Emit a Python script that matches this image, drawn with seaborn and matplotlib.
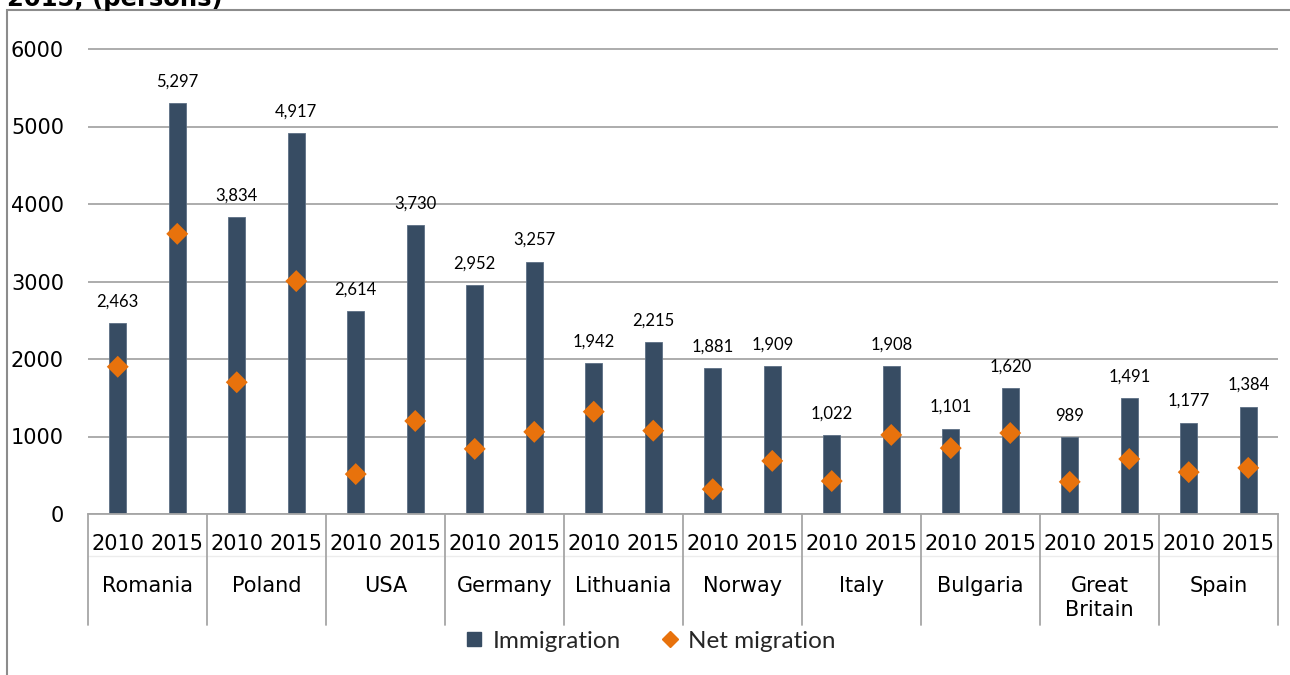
import numpy as np
import pandas as pd
import matplotlib
matplotlib.use("Agg")
import matplotlib.pyplot as plt
import matplotlib.transforms as mtransforms
from matplotlib.lines import Line2D
from matplotlib.patches import Rectangle
import seaborn as sns

# Data: immigration and net migration by country of previous residence
countries = ["Romania", "Poland", "USA", "Germany", "Lithuania", "Norway",
             "Italy", "Bulgaria", "Great\nBritain", "Spain"]
years = ["2010", "2015"]
immigration_2010 = [2463, 3834, 2614, 2952, 1942, 1881, 1022, 1101, 989, 1177]
immigration_2015 = [5297, 4917, 3730, 3257, 2215, 1909, 1908, 1620, 1491, 1384]
net_2010 = [1900, 1700, 515, 840, 1320, 320, 425, 850, 415, 540]
net_2015 = [3615, 3005, 1200, 1060, 1075, 685, 1020, 1045, 710, 595]
y_ticks = [0, 1000, 2000, 3000, 4000, 5000, 6000]

BAR = "#374C63"
ORANGE = "#E8720C"
GRID = "#A6A6A6"
EDGE = "#8C8C8C"

rows = []
for c, i10, i15, n10, n15 in zip(countries, immigration_2010, immigration_2015,
                                 net_2010, net_2015):
    rows.append({"country": c, "year": years[0], "immigration": i10, "net": n10})
    rows.append({"country": c, "year": years[1], "immigration": i15, "net": n15})
df = pd.DataFrame(rows)
df["slot"] = df["country"] + " " + df["year"]
df["pos"] = np.arange(len(df))

sns.set_theme(style="white")
plt.rcParams["font.family"] = ["DejaVu Sans"]

W, H = 1290, 675
PT = 0.72  # points per pixel at 100 dpi
fig = plt.figure(figsize=(W / 100, H / 100), dpi=100)

# axes geometry in pixels
x0_px, x1_px = 88, 1278
base_px = 514
px_per_unit = 465 / 6000
ymax = 6100
ax_h_px = ymax * px_per_unit
ax = fig.add_axes([x0_px / W, (H - base_px) / H, (x1_px - x0_px) / W, ax_h_px / H])

sns.barplot(data=df, x="slot", y="immigration", order=list(df["slot"]),
            color=BAR, saturation=1, width=0.29, ax=ax, zorder=2,
            edgecolor="#5c6f84", linewidth=0.6)
sns.scatterplot(data=df, x="pos", y="net", marker="D", s=125, color=ORANGE,
                edgecolor="none", ax=ax, zorder=4, legend=False)

ax.set_xlim(-0.5, len(df) - 0.5)
ax.set_ylim(0, ymax)
ax.set_yticks(y_ticks)
ax.set_yticklabels([str(t) for t in y_ticks])
ax.yaxis.grid(True, color=GRID, lw=1.3)
ax.set_axisbelow(True)
ax.set_xticks([])
ax.set_xlabel("")
ax.set_ylabel("")
for s in ["left", "right", "top"]:
    ax.spines[s].set_visible(False)
ax.spines["bottom"].set_color(GRID)
ax.spines["bottom"].set_linewidth(1.3)
ax.tick_params(axis="y", length=0, pad=24 * PT, labelsize=15, colors="black")

# value labels on the bars
for p, v in zip(df["pos"], df["immigration"]):
    ax.annotate(f"{v:,}", xy=(p, v), xytext=(0, 12), textcoords="offset points",
                ha="center", va="baseline", fontsize=12, family="Lato",
                color="black")

# two-level category axis below the plot
trans = mtransforms.blended_transform_factory(ax.transData, ax.transAxes)
for p, y in zip(df["pos"], df["year"]):
    ax.annotate(y, xy=(p, 0), xytext=(0, -36 * PT), textcoords="offset points",
                ha="center", va="baseline", fontsize=15, color="black",
                annotation_clip=False)
for k, c in enumerate(countries):
    for j, line in enumerate(c.split("\n")):
        ax.annotate(line, xy=(2 * k + 0.5, 0), xytext=(0, -(78 + 24 * j) * PT),
                    textcoords="offset points", ha="center", va="baseline",
                    fontsize=15, color="black", annotation_clip=False)
sep_len = -111 / ax_h_px
for k in range(len(countries) + 1):
    xs = 2 * k - 0.5
    ax.plot([xs, xs], [0, sep_len], transform=trans, color=GRID, lw=1.3,
            clip_on=False, zorder=1)
ax.plot([-0.5, len(df) - 0.5], [-42 / ax_h_px] * 2, transform=trans,
        color="#ECECEC", lw=1.0, clip_on=False, zorder=0)

# legend
handles = [
    Line2D([], [], marker="s", ls="none", color=BAR, markersize=10.5),
    Line2D([], [], marker="D", ls="none", color=ORANGE, markersize=8),
]
fig.legend(handles, ["Immigration", "Net migration"], loc="center",
           bbox_to_anchor=(650 / W, 1 - 641 / H), ncol=2, frameon=False,
           prop={"family": "Lato", "size": 17.5}, handletextpad=0.35,
           columnspacing=1.6, handlelength=0.8)

# frame and heading
fig.add_artist(Rectangle((7 / W, -0.1), 1.2, 1 - 10 / H + 0.1,
                         transform=fig.transFigure, fill=False,
                         edgecolor=EDGE, lw=1.5))
fig.text(7 / W, 1 - 6 / H, "2015, (persons)", fontsize=17.5, weight="bold",
         ha="left", va="baseline", color="black")

fig.savefig("out.png", dpi=100)
